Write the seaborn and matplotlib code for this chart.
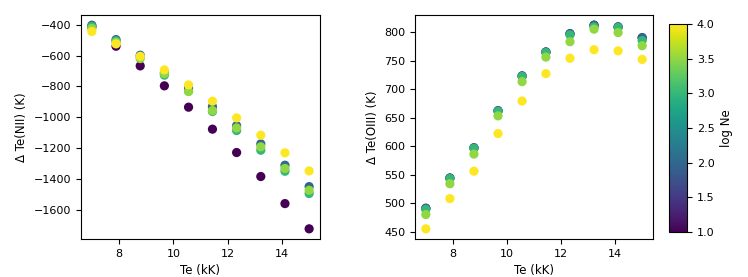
import numpy as np
import pandas as pd
import matplotlib
matplotlib.use('Agg')
import matplotlib.pyplot as plt
import seaborn as sns

# electron temperature grid (kK)
te = [7.0, 7.89, 8.78, 9.67, 10.56, 11.44, 12.33, 13.22, 14.11, 15.0]
log_ne = [1.0, 2.0, 3.0, 3.5, 4.0]

# Delta Te(NII) for each log Ne
dte_nii_1 = [-415, -540, -667, -796, -934, -1076, -1227, -1382, -1557, -1720]
dte_nii_2 = [-404, -497, -598, -712, -810, -930, -1053, -1171, -1309, -1447]
dte_nii_3 = [-412, -505, -610, -727, -830, -962, -1085, -1212, -1348, -1492]
dte_nii_35 = [-425, -515, -620, -717, -833, -956, -1068, -1190, -1330, -1471]
dte_nii_4 = [-445, -525, -605, -693, -790, -895, -1003, -1115, -1229, -1346]

# Delta Te(OIII) for each log Ne
dte_oiii_1 = [491, 544, 597, 662, 723, 765, 797, 812, 809, 790]
dte_oiii_2 = [491, 544, 597, 662, 723, 765, 797, 812, 809, 790]
dte_oiii_3 = [489, 543, 596, 661, 722, 764, 795, 809, 808, 785]
dte_oiii_35 = [480, 534, 586, 653, 713, 756, 783, 805, 799, 776]
dte_oiii_4 = [455, 508, 556, 622, 679, 727, 754, 769, 767, 752]

nii = [dte_nii_1, dte_nii_2, dte_nii_3, dte_nii_35, dte_nii_4]
oiii = [dte_oiii_1, dte_oiii_2, dte_oiii_3, dte_oiii_35, dte_oiii_4]

rows = []
for ne, a, b in zip(log_ne, nii, oiii):
    for t, v1, v2 in zip(te, a, b):
        rows.append({'Te': t, 'logNe': ne, 'NII': v1, 'OIII': v2})
df = pd.DataFrame(rows)

plt.rcParams['font.family'] = ['DejaVu Sans']
plt.rcParams['font.size'] = 8
plt.rcParams['axes.labelsize'] = 8.5

fig = plt.figure(figsize=(7.48, 2.77), dpi=100)
W, H = 748, 277
ax1 = fig.add_axes([81 / W, 1 - 239 / H, 239 / W, 224 / H])
ax2 = fig.add_axes([415 / W, 1 - 239 / H, 238 / W, 224 / H])
cax = fig.add_axes([669 / W, 1 - 232 / H, 18 / W, 208 / H])

norm = plt.Normalize(1, 4)
for ax, col, lab in [(ax1, 'NII', 'Δ Te(NII) (K)'), (ax2, 'OIII', 'Δ Te(OIII) (K)')]:
    sns.scatterplot(data=df, x='Te', y=col, hue='logNe', palette='viridis',
                    hue_norm=norm, s=44, linewidth=0, legend=False, ax=ax)
    ax.set_xlabel('Te (kK)')
    ax.set_ylabel(lab)
    ax.set_xticks([8, 10, 12, 14])

ax2.set_yticks([450, 500, 550, 600, 650, 700, 750, 800])

sm = plt.cm.ScalarMappable(cmap='viridis', norm=norm)
cb = fig.colorbar(sm, cax=cax)
cb.set_label('log Ne')
cb.set_ticks([1.0, 1.5, 2.0, 2.5, 3.0, 3.5, 4.0])

plt.savefig('out.png', dpi=100)
